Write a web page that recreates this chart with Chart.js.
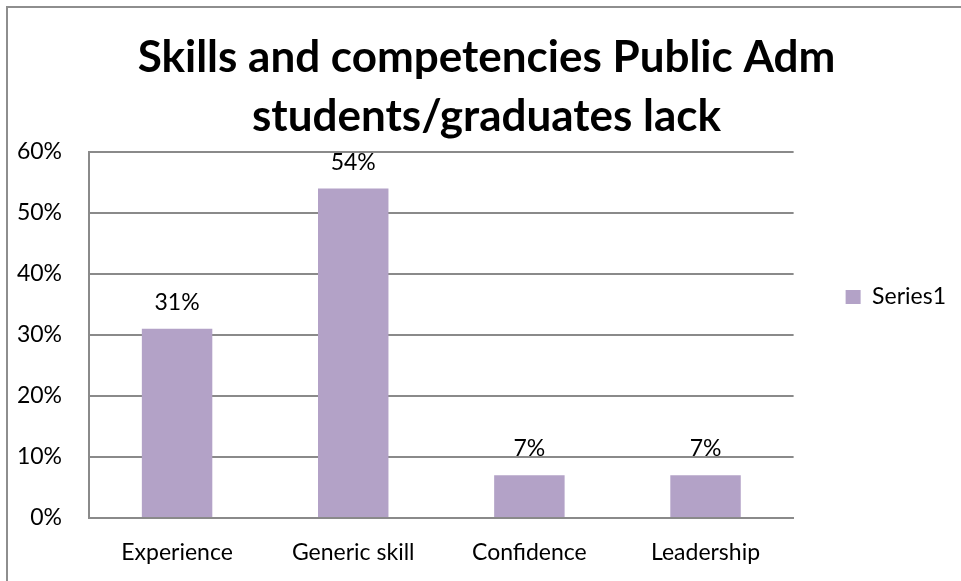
<!DOCTYPE html>
<html>
<head>
<meta charset="utf-8">
<title>Skills and competencies</title>
<script src="https://cdn.jsdelivr.net/npm/chart.js@4/dist/chart.umd.min.js"></script>
<style>
  html, body { margin: 0; padding: 0; background: #fff; }
  #frame {
    position: absolute; left: 6px; top: 6px; width: 1000px; height: 1000px;
    border-left: 2px solid #8e8e8e; border-top: 2px solid #8e8e8e;
    box-sizing: border-box; pointer-events: none;
  }
  #chart { position: absolute; left: 0; top: 0; }
</style>
</head>
<body>
<div id="frame"></div>
<canvas id="chart" width="961" height="581"></canvas>
<script>
/* ── data ─────────────────────────────────────── */
const categories = ['Experience', 'Generic skill', 'Confidence', 'Leadership'];
const series1 = [31, 54, 7, 7];
const yTicks = [0, 10, 20, 30, 40, 50, 60];
const titleLines = ['Skills and competencies Public Adm', 'students/graduates lack'];

const FONT = 'Lato, "Open Sans", sans-serif';
const GRID = '#8a8a8a';
const BAR = '#b3a2c7';

// value labels above each bar, placed from the bar elements
const barLabels = {
  id: 'barLabels',
  afterDatasetsDraw(chart) {
    const ctx = chart.ctx;
    const meta = chart.getDatasetMeta(0);
    ctx.save();
    ctx.font = '23px ' + FONT;
    ctx.fillStyle = '#000';
    ctx.textAlign = 'center';
    ctx.textBaseline = 'alphabetic';
    meta.data.forEach((bar, i) => {
      ctx.fillText(series1[i] + '%', bar.x, bar.y - 19);
    });
    ctx.restore();
  }
};

new Chart(document.getElementById('chart'), {
  type: 'bar',
  data: {
    labels: categories,
    datasets: [{
      label: 'Series1',
      data: series1,
      backgroundColor: BAR,
      borderWidth: 0,
      categoryPercentage: 1,
      barPercentage: 0.4
    }]
  },
  plugins: [barLabels],
  options: {
    responsive: false,
    animation: false,
    layout: { padding: { left: 17, right: 5, top: 0, bottom: 0 } },
    plugins: {
      tooltip: { enabled: false },
      title: {
        display: true,
        text: titleLines,
        color: '#000',
        font: { family: FONT, size: 44, weight: 'bold', lineHeight: 1.34 },
        padding: { top: 28, bottom: 6 }
      },
      legend: {
        position: 'right',
        align: 'start',
        title: { display: true, text: '', font: { size: 12 }, padding: { top: 219, bottom: 0 } },
        labels: {
          boxWidth: 15,
          boxHeight: 14,
          padding: 52,
          color: '#000',
          font: { family: FONT, size: 23 }
        }
      }
    },
    scales: {
      x: {
        afterFit: s => { s.height = 63; },
        grid: { display: false, drawTicks: false },
        border: { display: true, color: GRID, width: 2 },
        ticks: { color: '#000', font: { family: FONT, size: 23 }, padding: 21 }
      },
      y: {
        min: 0,
        max: 60,
        afterFit: s => { s.width = 72; },
        afterBuildTicks: s => { s.ticks = yTicks.map(v => ({ value: v })); },
        grid: { color: GRID, lineWidth: 2, drawTicks: false },
        border: { display: true, color: GRID, width: 2 },
        ticks: {
          color: '#000',
          font: { family: FONT, size: 23 },
          padding: 27,
          callback: v => v + '%'
        }
      }
    }
  }
});
</script>
</body>
</html>
